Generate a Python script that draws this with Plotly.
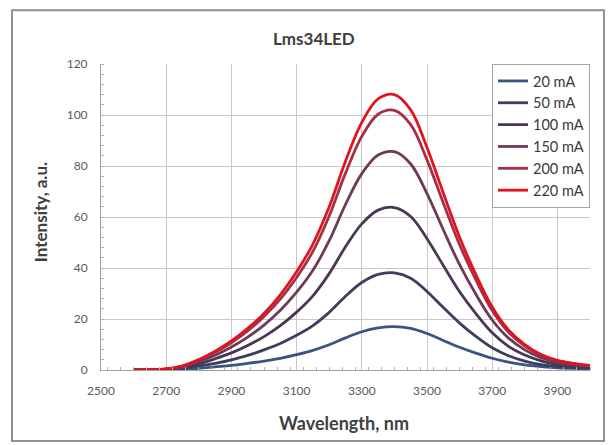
import plotly.graph_objects as go

wavelength = [2600, 2650, 2700, 2750, 2800, 2850, 2900, 2950, 3000, 3050, 3100, 3150, 3200, 3250,
              3300, 3350, 3400, 3450, 3500, 3550, 3600, 3650, 3700, 3750, 3800, 3850, 3900, 3950, 4000]

i_20 = [0, 0.0, 0.1, 0.3, 0.6, 1.2, 1.8, 2.6, 3.5, 4.6, 6.0, 7.7, 9.9, 12.6, 15.0, 16.5, 17.0, 16.3,
        14.3, 11.6, 8.9, 6.6, 4.6, 3.1, 2.0, 1.3, 0.8, 0.6, 0.4]
i_50 = [0, 0.0, 0.2, 0.6, 1.5, 2.6, 4.0, 5.7, 7.9, 10.4, 13.6, 17.4, 22.6, 28.9, 34.3, 37.5, 38.1, 36.0,
        30.8, 24.5, 18.4, 13.2, 8.7, 5.6, 3.5, 2.1, 1.3, 0.9, 0.7]
i_100 = [0, 0.1, 0.3, 1.0, 2.4, 4.4, 6.7, 9.6, 13.1, 17.4, 22.7, 29.1, 37.8, 48.3, 57.3, 62.7, 63.7, 60.2,
         51.5, 41.0, 30.7, 22.1, 14.6, 9.3, 5.9, 3.6, 2.2, 1.5, 1.1]
i_150 = [0, 0.1, 0.3, 1.3, 3.3, 5.8, 9.0, 12.9, 17.6, 23.4, 30.5, 39.1, 50.7, 64.9, 77.0, 84.3, 85.6, 80.8,
         69.2, 55.0, 41.3, 29.7, 19.6, 12.5, 7.9, 4.8, 3.0, 2.1, 1.5]
i_200 = [0, 0.1, 0.4, 1.5, 3.9, 7.0, 10.7, 15.3, 21.0, 27.8, 36.3, 46.5, 60.4, 77.2, 91.6, 100.3, 101.8, 96.2,
         82.4, 65.5, 49.1, 35.3, 23.3, 14.8, 9.4, 5.7, 3.6, 2.5, 1.7]
i_220 = [0, 0.1, 0.4, 1.6, 4.1, 7.4, 11.4, 16.3, 22.2, 29.5, 38.5, 49.4, 64.0, 81.9, 97.1, 106.3, 108.0, 102.0,
         87.3, 69.4, 52.1, 37.4, 24.7, 15.7, 10.0, 6.1, 3.8, 2.6, 1.8]

series_names = ["20 mA", "50 mA", "100 mA", "150 mA", "200 mA", "220 mA"]
series_values = [i_20, i_50, i_100, i_150, i_200, i_220]
series_colors = ["#3a5582", "#3c405e", "#4a3753", "#6c3b58", "#a52f48", "#e0141f"]

x_ticks = [2500, 2700, 2900, 3100, 3300, 3500, 3700, 3900]
y_ticks = [0, 20, 40, 60, 80, 100, 120]

FONT = "Lato, 'Open Sans', sans-serif"

fig = go.Figure()
for name, vals, col in zip(series_names, series_values, series_colors):
    fig.add_trace(go.Scatter(x=wavelength, y=vals, name=name, mode="lines",
                             line=dict(color=col, width=2.8, shape="spline", smoothing=1.0)))

fig.update_layout(
    width=616, height=445,
    margin=dict(l=101, r=26, t=64, b=75),
    paper_bgcolor="white", plot_bgcolor="white",
    font=dict(family=FONT, color="#404040"),
    showlegend=True,
    legend=dict(x=1, xanchor="right", y=1, yanchor="top",
                bgcolor="white", bordercolor="#a6a6a6", borderwidth=1,
                font=dict(size=14.5, color="#3a3a3a", family=FONT),
                itemwidth=30, tracegroupgap=0),
    xaxis=dict(range=[2500, 4000], tickvals=x_ticks, ticktext=[str(v) for v in x_ticks],
               showgrid=True, gridcolor="#c8c8c8", gridwidth=1,
               showline=True, linecolor="#a0a0a0", linewidth=1,
               ticks="", tickfont=dict(size=12, color="#595959"),
               ticklabelstandoff=10, zeroline=False,
               minor=dict(dtick=40, ticks="inside", ticklen=3, tickcolor="#b0b0b0", showgrid=False)),
    yaxis=dict(range=[0, 120], tickvals=y_ticks,
               showgrid=True, gridcolor="#c8c8c8", gridwidth=1,
               showline=True, linecolor="#a0a0a0", linewidth=1,
               ticks="", tickfont=dict(size=12, color="#595959"),
               ticklabelstandoff=10, zeroline=False,
               minor=dict(dtick=4, ticks="inside", ticklen=3, tickcolor="#b0b0b0", showgrid=False)),
    annotations=[
        dict(text="<b>Lms34LED</b>", xref="paper", yref="paper", x=0.435, y=1.0817,
             showarrow=False, font=dict(size=17, color="#404040", family=FONT),
             xanchor="center", yanchor="middle"),
        dict(text="<b>Wavelength, nm</b>", xref="paper", yref="paper", x=0.497, y=-0.173,
             showarrow=False, font=dict(size=18, color="#404040", family=FONT),
             xanchor="center", yanchor="middle"),
        dict(text="<b>Intensity, a.u.</b>", xref="paper", yref="paper", x=-0.1247, y=0.516,
             showarrow=False, textangle=-90, font=dict(size=17, color="#404040", family=FONT),
             xanchor="center", yanchor="middle"),
    ],
    shapes=[dict(type="rect", xref="paper", yref="paper", x0=-0.182, x1=1.0286, y0=-0.232, y1=1.176,
                 line=dict(color="#8c929c", width=2), fillcolor="rgba(0,0,0,0)", layer="below")],
)

fig.write_html("out.html")
